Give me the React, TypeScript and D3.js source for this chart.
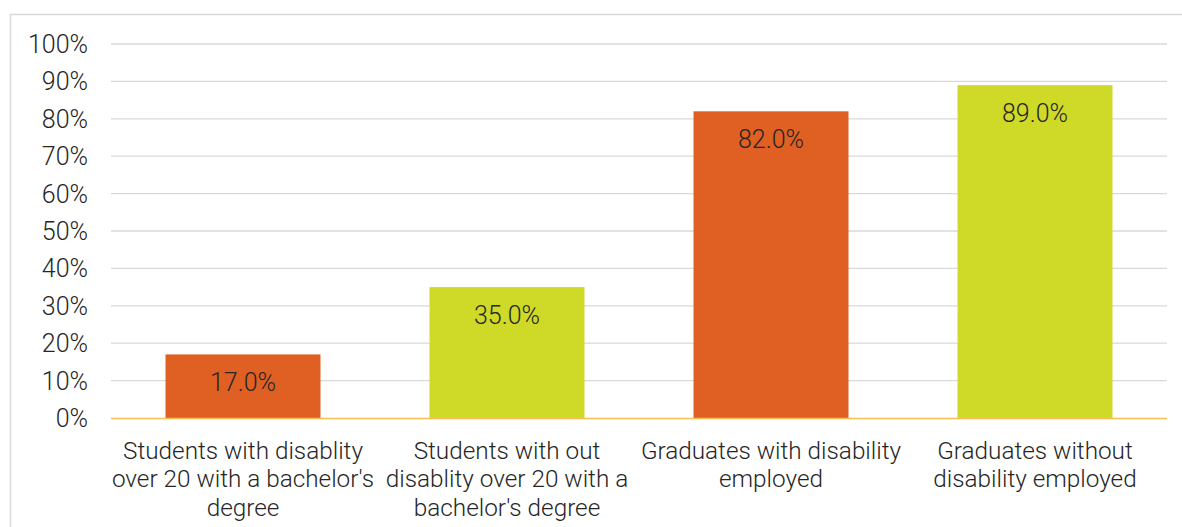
import React from "react";
import * as d3 from "d3";

const categories = [
  ["Students with disablity", "over 20 with a bachelor's", "degree"],
  ["Students with out", "disablity over 20 with a", "bachelor's degree"],
  ["Graduates with disability", "employed"],
  ["Graduates without", "disability employed"],
];
const values = [17, 35, 82, 89];
const barColors = ["#E05F22", "#CFD928", "#E05F22", "#CFD928"];
const yTicks = [0, 10, 20, 30, 40, 50, 60, 70, 80, 90, 100];

const W = 1182;
const H = 527;
const plotLeft = 111;
const plotRight = 1167;
const plotTop = 44;
const plotBottom = 418;
const font = "Roboto, 'Liberation Sans', sans-serif";

export default function App() {
  const x = d3
    .scaleBand<number>()
    .domain(d3.range(values.length))
    .range([plotLeft, plotRight])
    .paddingInner(0.413)
    .paddingOuter(0.2065);
  const y = d3.scaleLinear().domain([0, 100]).range([plotBottom, plotTop]);

  return (
    <svg
      width={W}
      height={H}
      style={{ position: "fixed", left: 0, top: 0, background: "#fff" }}
    >
      <rect x={10.5} y={14.5} width={W} height={H} fill="#fff" stroke="#d9d9d9" strokeWidth={1.5} />
      {yTicks.map((t) => (
        <g key={t}>
          {t > 0 && (
            <line
              x1={plotLeft}
              x2={plotRight}
              y1={y(t)}
              y2={y(t)}
              stroke="#d9d9d9"
              strokeWidth={1.3}
            />
          )}
          <text
            x={88}
            y={y(t)}
            dy="0.36em"
            textAnchor="end"
            fontFamily={font}
            fontWeight={300}
            fontSize={25}
            fill="#262626"
          >
            {t}%
          </text>
        </g>
      ))}
      {values.map((v, i) => (
        <g key={i}>
          <rect
            x={x(i)}
            y={y(v)}
            width={x.bandwidth()}
            height={y(0) - y(v)}
            fill={barColors[i]}
          />
          <text
            x={(x(i) as number) + x.bandwidth() / 2}
            y={y(v) + 28}
            dy="0.36em"
            textAnchor="middle"
            fontFamily={font}
            fontWeight={300}
            fontSize={25}
            fill="#262626"
          >
            {v.toFixed(1)}%
          </text>
        </g>
      ))}
      <line
        x1={plotLeft}
        x2={plotRight}
        y1={plotBottom + 0.5}
        y2={plotBottom + 0.5}
        stroke="#F9BE54"
        strokeWidth={1.5}
      />
      {categories.map((lines, i) => (
        <text
          key={i}
          textAnchor="middle"
          fontFamily={font}
          fontWeight={300}
          fontSize={24.3}
          fill="#262626"
        >
          {lines.map((l, j) => (
            <tspan
              key={j}
              x={(x(i) as number) + x.bandwidth() / 2}
              y={450 + j * 28.5}
              dy="0.36em"
            >
              {l}
            </tspan>
          ))}
        </text>
      ))}
    </svg>
  );
}
